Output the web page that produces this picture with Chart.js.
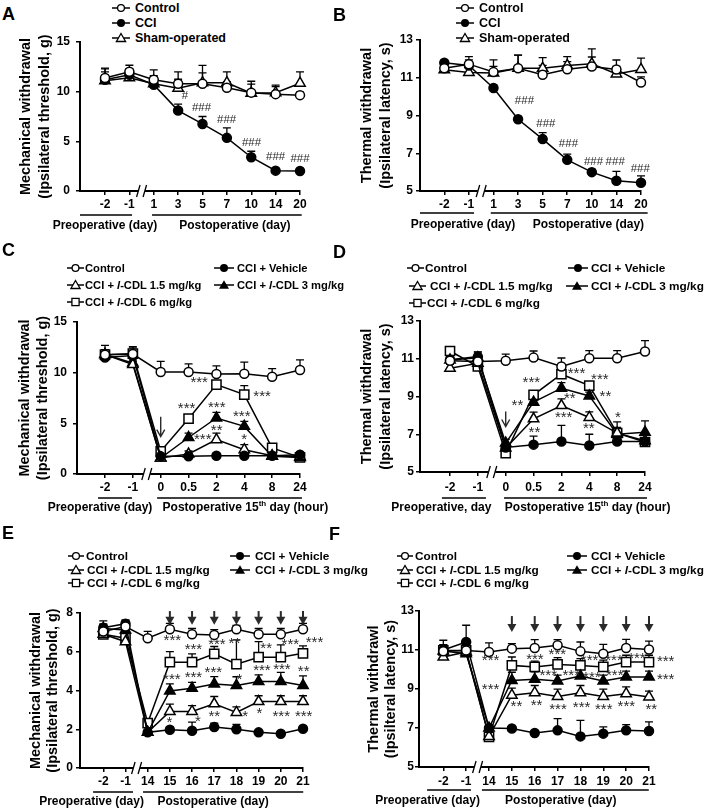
<!DOCTYPE html>
<html><head><meta charset="utf-8">
<script src="https://cdn.jsdelivr.net/npm/chart.js@4.4.0/dist/chart.umd.min.js"></script>
<style>
html,body{margin:0;padding:0;background:#fff;}
#wrap{position:relative;width:709px;height:809px;overflow:hidden;font-family:'Liberation Sans',Arial,sans-serif;color:#000;}
canvas{position:absolute;left:0;top:0;}
.letter{position:absolute;font-weight:bold;font-size:18px;line-height:18px;}
.leg{position:absolute;display:flex;align-items:center;height:14px;font-weight:bold;line-height:14px;white-space:nowrap;}
.leg svg{display:block;flex:none;}
</style></head><body><div id="wrap"></div>
<script>
// ---------- categories (x tick labels) ----------
const catsDaysAB = ['-2','-1','1','3','5','7','10','14','20'];
const catsHoursCD = ['-2','-1','0','0.5','2','4','8','24'];
const catsDaysEF = ['-2','-1','14','15','16','17','18','19','20','21'];

// ---------- Panel A: mechanical withdrawal (g) ----------
const A_control     = [11.38, 12.0, 11.2, 10.8, 10.8, 10.4, 9.9, 9.75, 9.65];
const A_control_err = [1.0, 0.66, 1.0, 1.2, 1.85, 0.6, 1.15, 0.9, 0.3];
const A_cci         = [11.2, 11.7, 10.7, 8.1, 6.75, 5.35, 3.4, 2.05, 2.02];
const A_cci_err     = [1.1, 0.6, 0.5, 0.65, 0.75, 1.0, 0.6, 0.2, 0.2];
const A_sham        = [11.1, 11.4, 10.8, 10.35, 10.9, 10.9, 9.85, 9.9, 10.85];
const A_sham_err    = [0.9, 0.5, 0.8, 0.9, 1.0, 1.1, 0.9, 0.6, 1.15];

// ---------- Panel B: thermal withdrawal (s) ----------
const B_control     = [11.5, 11.72, 11.3, 11.5, 11.16, 11.45, 11.6, 11.44, 10.75];
const B_control_err = [0.3, 0.4, 0.3, 0.7, 0.5, 0.4, 0.5, 0.5, 0.3];
const B_cci         = [11.8, 11.65, 10.46, 8.8, 7.75, 6.65, 6.0, 5.54, 5.44];
const B_cci_err     = [0.1, 0.3, 0.15, 0.15, 0.34, 0.3, 0.15, 0.5, 0.36];
const B_sham        = [11.42, 11.28, 11.25, 11.5, 11.5, 11.65, 11.74, 11.2, 11.44];
const B_sham_err    = [0.3, 0.3, 0.7, 0.7, 0.57, 0.47, 0.79, 0.4, 0.6];

// ---------- Panel C ----------
const C_control     = [11.78, 11.84, 10.07, 10.07, 9.87, 9.9, 9.6, 10.26];
const C_control_err = [0.5, 0.6, 1.05, 0.8, 0.8, 1.15, 0.8, 1.0];
const C_vehicle     = [11.5, 11.7, 1.74, 1.74, 1.8, 1.8, 1.8, 1.9];
const C_vehicle_err = [1.2, 0.5, 0.2, 0.1, 0.1, 0.1, 0.1, 0.1];
const C_cdl15       = [11.8, 10.8, 1.58, 1.97, 3.39, 2.4, 1.8, 1.7];
const C_cdl15_err   = [0.3, 0.3, 0.1, 0.3, 0.65, 0.5, 0.2, 0.1];
const C_cdl3        = [11.8, 10.95, 1.58, 3.6, 5.53, 4.7, 1.74, 1.64];
const C_cdl3_err    = [0.3, 0.3, 0.1, 0.43, 0.56, 0.5, 0.2, 0.1];
const C_cdl6        = [11.78, 11.87, 2.24, 5.46, 8.82, 7.83, 2.57, 1.64];
const C_cdl6_err    = [0.4, 0.7, 0.3, 0.4, 0.3, 0.9, 0.3, 0.1];

// ---------- Panel D ----------
const D_control     = [10.9, 10.85, 10.89, 11.06, 10.59, 11.03, 11.03, 11.38];
const D_control_err = [0.3, 0.3, 0.35, 0.35, 0.45, 0.4, 0.4, 0.58];
const D_vehicle     = [10.95, 11.11, 6.3, 6.45, 6.62, 6.4, 6.62, 6.62];
const D_vehicle_err = [0.3, 0.25, 0.2, 0.45, 0.85, 0.6, 0.2, 0.2];
const D_cdl15       = [10.5, 10.76, 6.27, 7.82, 8.52, 7.89, 7.06, 6.66];
const D_cdl15_err   = [0.2, 0.2, 0.2, 0.35, 0.35, 0.3, 0.3, 0.3];
const D_cdl3        = [10.94, 11.05, 6.53, 8.7, 9.44, 9.03, 7.0, 7.11];
const D_cdl3_err    = [0.2, 0.3, 0.2, 0.2, 0.3, 0.2, 0.3, 0.6];
const D_cdl6        = [11.41, 10.59, 6.0, 9.09, 10.18, 9.58, 7.06, 6.59];
const D_cdl6_err    = [0.2, 0.2, 0.2, 0.2, 0.3, 0.2, 0.6, 0.2];

// ---------- Panel E ----------
const E_control     = [7.04, 7.3, 6.7, 7.16, 6.9, 6.87, 7.16, 6.9, 6.9, 7.16];
const E_control_err = [0.4, 0.3, 0.35, 0.3, 0.3, 0.27, 0.2, 0.3, 0.3, 0.3];
const E_vehicle     = [7.24, 7.45, 1.84, 1.97, 1.92, 2.11, 2.0, 1.84, 1.77, 2.03];
const E_vehicle_err = [0.35, 0.2, 0.1, 0.15, 0.45, 0.2, 0.25, 0.1, 0.1, 0.1];
const E_cdl15       = [6.9, 6.52, 1.84, 2.92, 2.92, 3.31, 2.87, 3.43, 3.43, 3.43];
const E_cdl15_err   = [0.2, 0.2, 0.1, 0.38, 0.3, 0.38, 0.28, 0.3, 0.3, 0.3];
const E_cdl3        = [7.2, 7.12, 1.84, 3.98, 4.12, 4.34, 4.26, 4.46, 4.46, 4.26];
const E_cdl3_err    = [0.2, 0.2, 0.1, 0.36, 0.3, 0.38, 0.45, 0.35, 0.48, 0.5];
const E_cdl6        = [6.9, 6.7, 2.32, 5.46, 5.46, 5.89, 5.36, 5.72, 5.72, 5.92];
const E_cdl6_err    = [0.2, 0.2, 0.2, 0.55, 0.43, 0.38, 1.25, 0.8, 0.64, 0.38];

// ---------- Panel F ----------
const F_control     = [10.93, 10.98, 10.9, 11.07, 11.1, 11.24, 10.93, 10.81, 11.1, 11.03];
const F_control_err = [0.3, 0.3, 0.47, 0.26, 0.43, 0.29, 0.48, 0.48, 0.44, 0.43];
const F_vehicle     = [11.0, 11.41, 7.0, 6.97, 6.74, 6.88, 6.57, 6.71, 6.88, 6.85];
const F_vehicle_err = [0.5, 0.86, 0.1, 0.1, 0.1, 0.6, 0.82, 0.35, 0.29, 0.46];
const F_cdl15       = [10.64, 10.9, 6.57, 8.68, 8.81, 8.62, 8.81, 8.62, 8.76, 8.59];
const F_cdl15_err   = [0.2, 0.2, 0.1, 0.37, 0.37, 0.37, 0.37, 0.37, 0.35, 0.3];
const F_cdl3        = [10.95, 10.81, 7.0, 9.44, 9.5, 9.41, 9.67, 9.41, 9.62, 9.62];
const F_cdl3_err    = [0.3, 0.2, 0.1, 0.42, 0.38, 0.3, 0.45, 0.3, 0.3, 0.3];
const F_cdl6        = [10.98, 10.98, 6.54, 10.21, 10.13, 10.26, 10.21, 10.13, 10.38, 10.38];
const F_cdl6_err    = [0.3, 0.2, 0.1, 0.43, 0.3, 0.35, 0.35, 0.35, 0.35, 0.35];

// ---------- significance marks: [category index, value, text] ----------
const A_marks = [[3.28,9.33,'#'],[3.96,8.49,'###'],[4.99,7.25,'###'],[6.01,4.96,'###'],[7.0,3.55,'###'],[8.0,3.35,'###']];
const B_marks = [[3.26,9.64,'###'],[4.13,8.58,'###'],[5.05,7.52,'###'],[6.07,6.59,'###'],[6.95,6.59,'###'],[7.97,6.2,'###']];
const C_marks = [[3.38,8.85,'***'],[5.64,7.87,'***'],[2.93,6.74,'***'],[4.01,6.81,'***'],[4.91,5.89,'***'],[4.01,4.57,'**'],[3.51,3.62,'***'],[5.0,3.68,'*']];
const D_marks = [[2.92,9.67,'***'],[2.42,8.68,'**'],[4.54,10.36,'***'],[5.38,10.05,'***'],[4.3,9.03,'**'],[5.58,9.14,'**'],[4.08,8.03,'***'],[4.98,7.45,'**'],[3.03,7.24,'**'],[6.03,8.03,'*']];
const E_marks = [[3.11,6.49,'***'],[4.06,6.23,'***'],[5.12,6.52,'***'],[5.91,6.56,'**'],[7.34,6.3,'**'],[8.43,6.52,'***'],[9.52,6.61,'***'],
                 [3.09,4.72,'***'],[4.06,4.81,'***'],[4.96,5.06,'***'],[6.14,4.72,'*'],[7.15,5.15,'***'],[8.05,5.23,'***'],[9.03,5.12,'**'],
                 [2.98,2.49,'*'],[4.26,2.54,'*'],[5.0,2.8,'**'],[6.39,2.8,'*'],[7.04,2.92,'*'],[8.02,2.78,'***'],[9.03,2.78,'***']];
const F_marks = [[2.07,10.4,'***'],[4.01,10.65,'***'],[4.99,10.91,'***'],[6.4,10.57,'***'],[7.47,10.6,'***'],[8.47,10.68,'***'],[9.73,10.53,'***'],
                 [2.07,9.08,'***'],[4.59,9.8,'***'],[5.6,9.83,'***'],[6.5,9.7,'***'],[7.5,9.83,'***'],[9.73,9.59,'***'],
                 [3.2,8.21,'**'],[4.08,8.26,'**'],[5.02,8.08,'***'],[6.05,8.17,'***'],[7.02,8.08,'***'],[8.01,8.21,'***'],[9.1,8.08,'**']];

// ---------- drug-injection arrows: category indices ----------
const C_arrows = [2];
const D_arrows = [2];
const E_arrows = [3,4,5,6,7,8,9];
const F_arrows = [3,4,5,6,7,8,9];

// ---------- series names ----------
const namesABC = ['Control','CCI','Sham-operated'];
const namesDrug = ['Control','CCI + Vehicle','CCI + l-CDL 1.5 mg/kg','CCI + l-CDL 3 mg/kg','CCI + l-CDL 6 mg/kg'];

Chart.defaults.font.family = "'Liberation Sans', Arial, sans-serif";
Chart.defaults.color = '#000';

const MARK = {
  circleOpen:   {ps:'circle',   r:4.5, fill:'#fff'},
  circleFilled: {ps:'circle',   r:4.5, fill:'#000'},
  triOpen:      {ps:'triangle', r:6,   fill:'#fff'},
  triFilled:    {ps:'triangle', r:6,   fill:'#000'},
  squareOpen:   {ps:'rect',     r:6.5, fill:'#fff'}
};
const mkAB = ['circleOpen','circleFilled','triOpen'];
const mkDrug = ['circleOpen','circleFilled','triOpen','triFilled','squareOpen'];

function ser(names, marks, vals, errs){ return vals.map((v,i)=>({name:names[i], marker:marks[i], values:v, errors:errs[i]})); }

const hashFont = "11.5px 'Liberation Sans', Arial";
const starFont = "15px 'Liberation Sans', Arial";

const panels = [
  {id:'A', letter:[2,7], cats:catsDaysAB, yMin:0, yMax:15, yStep:5,
   yTitle:['Mechanical withdrawal','(Ipsilateral threshold, g)'], titleX1:26, titleGap:19,
   area:{left:80, firstTick:105, right:300, top:42, bottom:191}, xPad:2, yPad:6,
   series: ser(namesABC, mkAB, [A_control, A_cci, A_sham], [A_control_err, A_cci_err, A_sham_err]),
   marks:A_marks, markFont:hashFont, arrows:[],
   groups:[{x0:-1.026,x1:1.11,tx:0,parts:[['Preoperative (day)',0]]},{x0:1.93,x1:8.07,tx:5.33,parts:[['Postoperative (day)',0]]}],
   gLine:24, gText:35, legFont:12.5,
   legend:[[0,112,8,18,5],[1,112,23,18,5],[2,112,38,18,5]]},
  {id:'B', letter:[333,8], cats:catsDaysAB, yMin:5, yMax:13, yStep:2,
   yTitle:['Thermal withdrawal','(Ipsilateral latency, s)'], titleX1:367, titleGap:18.5,
   area:{left:420, firstTick:444.3, right:641, top:40, bottom:191}, xPad:2, yPad:3,
   series: ser(namesABC, mkAB, [B_control, B_cci, B_sham], [B_control_err, B_cci_err, B_sham_err]),
   marks:B_marks, markFont:hashFont, arrows:[],
   groups:[{x0:-0.99,x1:1.21,tx:0.76,parts:[['Preoperative (day)',0]]},{x0:1.89,x1:8.27,tx:5.86,parts:[['Postoperative (day)',0]]}],
   gLine:22, gText:34, legFont:12.5,
   legend:[[0,456,8,18,5],[1,456,23,18,5],[2,456,38,18,5]]},
  {id:'C', letter:[2,243], cats:catsHoursCD, yMin:0, yMax:15, yStep:5,
   yTitle:['Mechanical withdrawal','(Ipsilateral threshold, g)'], titleX1:25, titleGap:18,
   area:{left:77, firstTick:105, right:300, top:322, bottom:474}, xPad:2, yPad:6,
   series: ser(namesDrug, mkDrug, [C_control, C_vehicle, C_cdl15, C_cdl3, C_cdl6], [C_control_err, C_vehicle_err, C_cdl15_err, C_cdl3_err, C_cdl6_err]),
   marks:C_marks, markFont:starFont, arrows:C_arrows, arrowTop:5.65, arrowTip:3.68, arrowBig:false,
   groups:[{x0:-0.25,x1:0.97,tx:-0.18,parts:[['Preoperative (day)',0]]},{x0:1.87,x1:7.07,tx:5.04,parts:[['Postoperative 15',0],['th',1],[' day (hour)',0]]}],
   gLine:24, gText:34, legFont:11.2,
   legend:[[0,67,268,17,1],[1,214,268,20,3],[2,67,285,17,1],[3,214,285,20,3],[4,67,302,17,1]]},
  {id:'D', letter:[333,245], cats:catsHoursCD, yMin:5, yMax:13, yStep:2,
   yTitle:['Thermal withdrawal','(Ipsilateral latency, s)'], titleX1:367, titleGap:19,
   area:{left:420, firstTick:450, right:645, top:321, bottom:472}, xPad:4, yPad:2,
   series: ser(namesDrug, mkDrug, [D_control, D_vehicle, D_cdl15, D_cdl3, D_cdl6], [D_control_err, D_vehicle_err, D_cdl15_err, D_cdl3_err, D_cdl6_err]),
   marks:D_marks, markFont:starFont, arrows:D_arrows, arrowTop:8.2, arrowTip:7.41, arrowBig:false,
   groups:[{x0:-0.29,x1:1.29,tx:-0.31,parts:[['Preoperative, day',0]]},{x0:1.94,x1:7.07,tx:4.94,parts:[['Postoperative 15',0],['th',1],[' day (hour)',0]]}],
   gLine:26, gText:36, legFont:11.8,
   legend:[[0,407,268,17,1],[1,568,268,20,3],[2,409,286,17,4],[3,566,286,22,3],[4,409,303,17,1]]},
  {id:'E', letter:[2,526], cats:catsDaysEF, yMin:0, yMax:8, yStep:2,
   yTitle:['Mechanical withdrawal','(Ipsilateral threshold, g)'], titleX1:36, titleGap:16.5,
   area:{left:80, firstTick:103.3, right:303, top:613, bottom:768}, xPad:2, yPad:3,
   series: ser(namesDrug, mkDrug, [E_control, E_vehicle, E_cdl15, E_cdl3, E_cdl6], [E_control_err, E_vehicle_err, E_cdl15_err, E_cdl3_err, E_cdl6_err]),
   marks:E_marks, markFont:starFont, arrows:E_arrows, arrowTop:8.1, arrowTip:7.4, arrowBig:true,
   groups:[{x0:-0.46,x1:1.34,tx:-0.53,parts:[['Preoperative (day)',0]]},{x0:1.79,x1:9.01,tx:4.95,parts:[['Postoperative (day)',0]]}],
   gLine:24, gText:34, legFont:11.8,
   legend:[[0,68,556,16,2],[1,230,556,20,5],[2,68,569.5,16,3],[3,230,569.5,20,5],[4,68,583,16,3]]},
  {id:'F', letter:[329,527], cats:catsDaysEF, yMin:5, yMax:13, yStep:2,
   yTitle:['Thermal withdrawl','(Ipsilteral latency, s)'], titleX1:374, titleGap:17,
   area:{left:419, firstTick:443.3, right:649, top:611, bottom:767}, xPad:3, yPad:1,
   series: ser(namesDrug, mkDrug, [F_control, F_vehicle, F_cdl15, F_cdl3, F_cdl6], [F_control_err, F_vehicle_err, F_cdl15_err, F_cdl3_err, F_cdl6_err]),
   marks:F_marks, markFont:starFont, arrows:F_arrows, arrowTop:12.74, arrowTip:11.92, arrowBig:true,
   groups:[{x0:-0.71,x1:1.21,tx:-0.69,parts:[['Preoperative (day)',0]]},{x0:1.69,x1:8.99,tx:5.14,parts:[['Postoperative (day)',0]]}],
   gLine:23, gText:34, legFont:11.8,
   legend:[[0,397,556,16,2],[1,567,556,20,4],[2,397,570,16,3],[3,567,570,20,4],[4,397,583,16,3]]}
];

function inkCenterText(ctx, text, cx, cy){
  const m = ctx.measureText(text);
  ctx.textAlign = 'center'; ctx.textBaseline = 'alphabetic';
  ctx.fillText(text, cx, cy + (m.actualBoundingBoxAscent - m.actualBoundingBoxDescent)/2);
}

function decoPlugin(p){
  return {
    id:'deco'+p.id,
    beforeDatasetsDraw(chart){
      const {ctx, scales:{x, y}} = chart;
      ctx.save(); ctx.strokeStyle = '#000'; ctx.lineWidth = 1.3;
      p.series.forEach(s => s.values.forEach((v,i) => {
        const e = s.errors[i]; if (!e) return;
        const px = x.getPixelForValue(i), py = y.getPixelForValue(v), pt = y.getPixelForValue(v+e);
        ctx.beginPath(); ctx.moveTo(px, py); ctx.lineTo(px, pt);
        ctx.moveTo(px-4, pt); ctx.lineTo(px+4, pt); ctx.stroke();
      }));
      ctx.restore();
    },
    afterDraw(chart){
      const {ctx, scales:{x, y}} = chart;
      const X = v => x.getPixelForValue(v), Y = v => y.getPixelForValue(v);
      const ab = chart.chartArea.bottom;
      ctx.save();
      // axis break
      const bx = X(1.5);
      ctx.fillStyle = '#fff'; ctx.fillRect(bx-3.5, ab-3, 7, 6);
      ctx.strokeStyle = '#000'; ctx.lineWidth = 1.3;
      ctx.beginPath();
      ctx.moveTo(bx-5, ab+6); ctx.lineTo(bx-1.5, ab-6);
      ctx.moveTo(bx+1.5, ab+6); ctx.lineTo(bx+5, ab-6);
      ctx.stroke();
      // group lines + labels
      ctx.lineWidth = 1.6; ctx.fillStyle = '#000';
      p.groups.forEach(g => {
        ctx.beginPath(); ctx.moveTo(X(g.x0), ab+p.gLine); ctx.lineTo(X(g.x1), ab+p.gLine); ctx.stroke();
        const big = "bold 12px 'Liberation Sans', Arial", small = "bold 8px 'Liberation Sans', Arial";
        let total = 0;
        g.parts.forEach(([t,sup]) => { ctx.font = sup ? small : big; total += ctx.measureText(t).width; });
        let cx = X(g.tx) - total/2;
        const ty = ab + p.gText;
        ctx.textAlign = 'left'; ctx.textBaseline = 'middle';
        g.parts.forEach(([t,sup]) => {
          ctx.font = sup ? small : big;
          ctx.fillText(t, cx, sup ? ty-4 : ty);
          cx += ctx.measureText(t).width;
        });
      });
      // significance marks
      ctx.fillStyle = '#2a2a2a'; ctx.font = p.markFont;
      p.marks.forEach(([i,v,t]) => inkCenterText(ctx, t, X(i), Y(v)));
      // arrows
      ctx.strokeStyle = '#2a2a2a'; ctx.fillStyle = '#2a2a2a';
      p.arrows.forEach(i => {
        const ax = X(i), y1 = Y(p.arrowTop), y2 = Y(p.arrowTip);
        if (p.arrowBig){
          ctx.lineWidth = 2;
          ctx.beginPath(); ctx.moveTo(ax, y1); ctx.lineTo(ax, y2-6); ctx.stroke();
          ctx.beginPath(); ctx.moveTo(ax-4.5, y2-8); ctx.lineTo(ax+4.5, y2-8); ctx.lineTo(ax, y2); ctx.closePath(); ctx.fill();
        } else {
          ctx.lineWidth = 1.4;
          ctx.beginPath(); ctx.moveTo(ax, y1); ctx.lineTo(ax, y2);
          ctx.moveTo(ax-4, y2-7); ctx.lineTo(ax, y2); ctx.lineTo(ax+4, y2-7); ctx.stroke();
        }
      });
      ctx.restore();
    }
  };
}

const wrap = document.getElementById('wrap');

function symbolSVG(marker, w){
  const c = w/2, cy = 7;
  let m = '';
  if (marker === 'circleOpen') m = `<circle cx="${c}" cy="${cy}" r="3.4" fill="#fff" stroke="#000" stroke-width="1.3"/>`;
  else if (marker === 'circleFilled') m = `<circle cx="${c}" cy="${cy}" r="4" fill="#000"/>`;
  else if (marker === 'triOpen') m = `<polygon points="${c},${cy-4.5} ${c+4.6},${cy+3.5} ${c-4.6},${cy+3.5}" fill="#fff" stroke="#000" stroke-width="1.3"/>`;
  else if (marker === 'triFilled') m = `<polygon points="${c},${cy-4.8} ${c+5},${cy+3.7} ${c-5},${cy+3.7}" fill="#000"/>`;
  else if (marker === 'squareOpen') m = `<rect x="${c-3.6}" y="${cy-3.6}" width="7.2" height="7.2" fill="#fff" stroke="#000" stroke-width="1.3"/>`;
  return `<svg width="${w}" height="14" viewBox="0 0 ${w} 14"><line x1="0" y1="${cy}" x2="${w}" y2="${cy}" stroke="#000" stroke-width="1.5"/>${m}</svg>`;
}

panels.forEach(p => {
  // panel letter
  const L = document.createElement('div');
  L.className = 'letter'; L.textContent = p.id;
  L.style.left = p.letter[0] + 'px'; L.style.top = (p.letter[1] - 2.3) + 'px';
  wrap.appendChild(L);
  // legend
  p.legend.forEach(([si, lx, ly, sw, gap]) => {
    const s = p.series[si];
    const d = document.createElement('div');
    d.className = 'leg';
    d.style.left = lx + 'px'; d.style.top = (ly - 7) + 'px'; d.style.fontSize = p.legFont + 'px';
    const label = s.name.replace('l-CDL', '<i>l</i>-CDL');
    d.innerHTML = symbolSVG(s.marker, sw) + `<span style="margin-left:${gap}px">${label}</span>`;
    wrap.appendChild(d);
  });
  // chart
  const canvas = document.createElement('canvas');
  canvas.width = 709; canvas.height = 809;
  wrap.appendChild(canvas);
  const n = p.cats.length;
  const spacing = (p.area.right - p.area.firstTick) / (n - 1);
  const xMin = -(p.area.firstTick - p.area.left) / spacing;
  const padLeft = p.titleX1 - p.titleGap/2 - 2;
  const yW = p.area.left - padLeft;
  const xH = 40;
  new Chart(canvas, {
    type:'line',
    data:{datasets: p.series.map(s => ({
      label: s.name,
      data: s.values.map((v,i) => ({x:i, y:v})),
      borderColor:'#000', borderWidth:1.5,
      pointStyle: MARK[s.marker].ps, pointRadius: MARK[s.marker].r,
      pointBackgroundColor: MARK[s.marker].fill, pointBorderColor:'#000', pointBorderWidth:1.5,
      tension:0, clip:false, fill:false
    }))},
    options:{
      responsive:false, animation:false, events:[],
      layout:{padding:{left:padLeft, top:p.area.top, right:709-p.area.right, bottom:809-p.area.bottom-xH}},
      plugins:{legend:{display:false}, tooltip:{enabled:false}},
      scales:{
        x:{type:'linear', min:xMin, max:n-1,
           afterBuildTicks: s => { s.ticks = p.cats.map((c,i) => ({value:i})); },
           afterFit: s => { s.height = xH; },
           ticks:{callback: v => p.cats[Math.round(v)], autoSkip:false, maxRotation:0, minRotation:0,
                  padding:p.xPad, font:{size:12, weight:'bold'}, color:'#000'},
           grid:{drawOnChartArea:false, drawTicks:true, tickLength:4, color:'#000', lineWidth:1.5},
           border:{display:true, color:'#000', width:2}},
        y:{type:'linear', min:p.yMin, max:p.yMax,
           afterFit: s => { s.width = yW; },
           ticks:{stepSize:p.yStep, padding:p.yPad, font:{size:12, weight:'bold'}, color:'#000'},
           grid:{drawOnChartArea:false, drawTicks:true, tickLength:4, color:'#000', lineWidth:1.5},
           border:{display:true, color:'#000', width:2},
           title:{display:true, text:p.yTitle, color:'#000',
                  font:{size:14.5, weight:'bold', lineHeight:p.titleGap/14.5}, padding:{top:2, bottom:0}}}
      }
    },
    plugins:[decoPlugin(p)]
  });
});
</script></body></html>
